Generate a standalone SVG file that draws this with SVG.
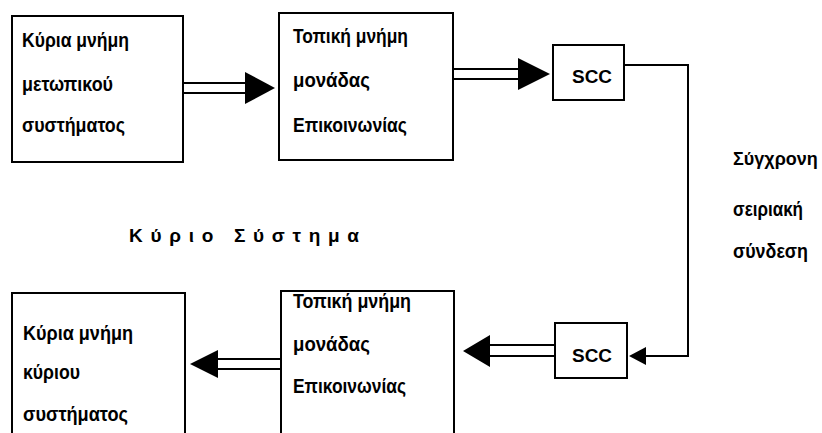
<svg xmlns="http://www.w3.org/2000/svg" width="822" height="433" viewBox="0 0 822 433">
<style>
.box{fill:#fff;stroke:#000;stroke-width:2}
.ln{fill:none;stroke:#000;stroke-width:2}
.hd{fill:#000;stroke:none}
.t{font-family:"Liberation Sans",Arial,sans-serif;font-weight:bold;font-size:20px;fill:#000}
.s{font-family:"Liberation Sans",Arial,sans-serif;font-weight:bold;font-size:19px;fill:#000}
</style>
<rect width="822" height="433" fill="#fff"/>
<g id="connectors">
<path class="ln" d="M183,83H248M183,93H248"/>
<polygon class="hd" points="245,72 275,88 245,104"/>
<path class="ln" d="M453,69H520M453,79H520"/>
<polygon class="hd" points="518,58 550,74 518,90"/>
<polyline class="ln" points="624,65 688,65 688,356 644,356"/>
<polygon class="hd" points="646,347 629,356 646,365"/>
<path class="ln" d="M555,345H488M555,356H488"/>
<polygon class="hd" points="490,335 463,351 490,367"/>
<path class="ln" d="M281,359H216M281,369H216"/>
<polygon class="hd" points="218,350 190,364 218,378"/>
</g>
<g id="main-memory-front">
<rect class="box" x="12" y="16" width="171" height="146"/>
<text class="t" x="22" y="47" textLength="107" lengthAdjust="spacingAndGlyphs">Κύρια μνήμη</text>
<text class="t" x="22" y="91" textLength="91" lengthAdjust="spacingAndGlyphs">μετωπικού</text>
<text class="t" x="22" y="132" textLength="103" lengthAdjust="spacingAndGlyphs">συστήματος</text>
</g>
<g id="local-memory-top">
<rect class="box" x="279" y="13" width="174" height="147"/>
<text class="t" x="293" y="43" textLength="115" lengthAdjust="spacingAndGlyphs">Τοπική μνήμη</text>
<text class="t" x="293" y="87" textLength="77" lengthAdjust="spacingAndGlyphs">μονάδας</text>
<text class="t" x="293" y="132" textLength="114" lengthAdjust="spacingAndGlyphs">Επικοινωνίας</text>
</g>
<g id="scc-top">
<rect class="box" x="553" y="45" width="71" height="55"/>
<text class="s" x="572" y="83" textLength="40" lengthAdjust="spacingAndGlyphs">SCC</text>
</g>
<g id="link-label">
<text class="t" x="733" y="165" style="font-size:18px">Σύγχρονη</text>
<text class="t" x="733" y="216" textLength="70" lengthAdjust="spacingAndGlyphs">σειριακή</text>
<text class="t" x="733" y="258" textLength="75" lengthAdjust="spacingAndGlyphs">σύνδεση</text>
</g>
<g id="main-system-label">
<text class="t" x="129" y="242" style="font-size:19px" textLength="230" lengthAdjust="spacing">Κύριο Σύστημα</text>
</g>
<g id="scc-bottom">
<rect class="box" x="555" y="323" width="72" height="55"/>
<text class="s" x="572" y="362" textLength="40" lengthAdjust="spacingAndGlyphs">SCC</text>
</g>
<g id="local-memory-bottom">
<rect class="box" x="281" y="291" width="173" height="160"/>
<text class="t" x="293" y="308" textLength="118" lengthAdjust="spacingAndGlyphs">Τοπική μνήμη</text>
<text class="t" x="293" y="351" textLength="77" lengthAdjust="spacingAndGlyphs">μονάδας</text>
<text class="t" x="293" y="393" textLength="113" lengthAdjust="spacingAndGlyphs">Επικοινωνίας</text>
</g>
<g id="main-memory-main">
<rect class="box" x="12" y="293" width="173" height="160"/>
<text class="t" x="23" y="340" textLength="110" lengthAdjust="spacingAndGlyphs">Κύρια μνήμη</text>
<text class="t" x="23" y="379" textLength="57" lengthAdjust="spacingAndGlyphs">κύριου</text>
<text class="t" x="23" y="421" textLength="105" lengthAdjust="spacingAndGlyphs">συστήματος</text>
</g>
</svg>
